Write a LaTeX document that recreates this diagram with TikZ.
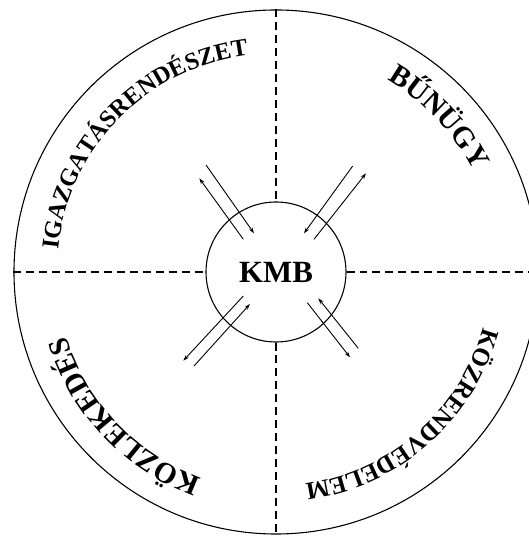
\documentclass[tikz,border=0pt]{standalone}
\usepackage{fontspec}
\setmainfont{Liberation Serif}
\usetikzlibrary{arrows.meta,decorations.text}
\tikzset{
  ring/.style={draw, circle, line width=1.1pt, inner sep=0pt},
  divider/.style={line width=1.8pt, dash pattern=on 8pt off 5pt},
  flow/.style={line width=0.9pt, -{Stealth[length=6pt, width=4pt]}},
}
\newcommand\arclabel[4]{\path[decorate, decoration={text along path, text align=center, text={|\bfseries\fontsize{#4}{#4}\selectfont|#3}}] (c) ++(#1+60:#2) arc[start angle=#1+60, end angle=#1-60, radius=#2];}

\begin{document}
\begin{tikzpicture}[x=1bp, y=1bp]
	\useasboundingbox (0,0) rectangle (529,536);
	\clip (0,0) rectangle (529,536);
	\coordinate (c) at (276,264);
	\node[ring, minimum size=524bp] (rim) at (c) {};
	\node[ring, minimum size=140bp, font=\bfseries\fontsize{31}{31}\selectfont] (kmb) at (c) {KMB};
	% quadrant borders
	\draw[divider] (rim.north) -- (kmb.north);
	\draw[divider] (kmb.south) -- (rim.south);
	\draw[divider] (rim.west) -- (kmb.west);
	\draw[divider] (kmb.east) -- (rim.east);
	% two-way links to the centre
	\foreach \n/\xa/\ya/\xb/\yb in {ulin/206/371/254/302.7, ulout/243.3/296.7/199.3/357.7, urin/352.7/370/304/302.7, urout/314/296.7/366/362.7, llout/243.3/240/183.3/175.3, llin/194/170/250/232, lrin/358.3/187.7/318.3/237.7, lrout/307.3/233.3/350/178.7} {\coordinate (\n-s) at (\xa,\ya); \coordinate (\n-e) at (\xb,\yb); \draw[flow] (\n-s) -- (\n-e);}
	% quadrant names
	\arclabel{135.7}{219}{IGAZGATÁSRENDÉSZET}{24.5}
	\arclabel{43.6}{222}{BŰNÜGY}{29.5}
	\arclabel{-48.6}{214}{KÖZRENDVÉDELEM}{25}
	\arclabel{-136.4}{219.5}{KÖZLEKEDÉS}{29.5}
\end{tikzpicture}
\end{document}
